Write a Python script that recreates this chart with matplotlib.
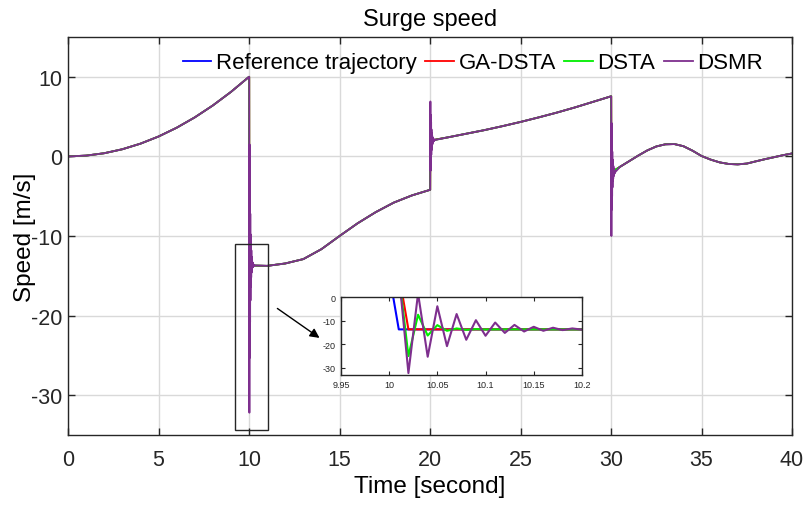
import numpy as np
import matplotlib.pyplot as plt
from matplotlib.patches import Rectangle

plt.rcParams['font.family'] = ['Liberation Sans', 'DejaVu Sans']
plt.rcParams['axes.unicode_minus'] = False

# reference trajectory, piece by piece (s, m/s)
seg1_time = [0, 1, 2, 3, 4, 5, 6, 7, 8, 9, 10]
seg1_speed = [0.0, 0.1, 0.4, 0.9, 1.6, 2.5, 3.6, 4.9, 6.4, 8.1, 10.0]

seg2_time = [10.01, 11, 12, 13, 14, 15, 16, 17, 18, 19, 20]
seg2_speed = [-13.7, -13.75, -13.45, -12.9, -11.65, -10.0, -8.4, -7.0, -5.8, -4.9, -4.2]

seg3_time = [20.01, 21, 22, 23, 24, 25, 26, 27, 28, 29, 30]
seg3_speed = [2.0, 2.4, 2.85, 3.3, 3.8, 4.33, 4.9, 5.5, 6.15, 6.85, 7.55]

seg4_time = [30.01, 30.5, 31, 31.5, 32, 32.5, 33, 33.5, 34, 34.5, 35,
             35.5, 36, 36.5, 37, 37.5, 38, 38.5, 39, 39.5, 40]
seg4_speed = [-2.0, -1.3, -0.6, 0.1, 0.75, 1.25, 1.52, 1.55, 1.28, 0.72, 0.05,
              -0.4, -0.75, -0.95, -1.0, -0.9, -0.62, -0.35, -0.1, 0.15, 0.37]

# controller samples after each step change (0.01 s sampling, first sample = lag)
ga_dsta_10 = [10.0, -13.7]
ga_dsta_20 = [-4.2, 2.0]
ga_dsta_30 = [7.55, -2.0]

dsta_10 = [10.0, -25.0, -7.5, -16.3, -11.9, -14.3, -13.3, -13.9, -13.6, -13.75, -13.7]
dsta_20 = [-4.2, 5.0, 0.4, 2.8, 1.6, 2.2, 1.9, 2.05, 2.0]
dsta_30 = [7.55, -6.6, 0.5, -3.1, -1.2, -2.3, -1.7, -2.0, -1.9]

dsmr_10 = [10.0, -32.2, 1.5, -25.3, -3.9, -20.8, -7.2, -18.1, -9.8, -16.4, -10.8,
           -15.2, -11.8, -14.6, -12.6, -14.3, -13.0, -14.0, -13.3, -13.8, -13.4,
           -13.9, -13.5, -13.8, -13.6, -13.75, -13.65, -13.7]
dsmr_20 = [-4.2, 6.9, -1.8, 5.2, -0.3, 4.3, 0.2, 3.4, 0.8, 2.9, 1.2, 2.6, 1.5,
           2.4, 1.7, 2.3, 1.8, 2.2, 1.9, 2.15, 1.95, 2.1, 2.0, 2.1, 2.05]
dsmr_30 = [7.55, -10.0, 4.2, -6.7, 2.0, -5.0, 0.6, -3.9, -0.4, -3.1, -0.8, -2.8,
           -1.2, -2.5, -1.5, -2.3, -1.7, -2.2, -1.8, -2.1, -1.9, -2.0]

ref_time = seg1_time + seg2_time + seg3_time + seg4_time
ref_speed = seg1_speed + seg2_speed + seg3_speed + seg4_speed


def controller(tr10, tr20, tr30):
    t, v = list(seg1_time), list(seg1_speed)
    pieces = [(10, tr10, seg2_time, seg2_speed),
              (20, tr20, seg3_time, seg3_speed),
              (30, tr30, seg4_time, seg4_speed)]
    for jump, tr, st, sv in pieces:
        tt = [jump + 0.01 * (i + 1) for i in range(len(tr))]
        t += tt
        v += tr
        for x, y in zip(st, sv):
            if x > tt[-1]:
                t.append(x)
                v.append(y)
    return t, v


series = [
    ('Reference trajectory', ref_time, ref_speed, '#0000ff'),
    ('GA-DSTA', *controller(ga_dsta_10, ga_dsta_20, ga_dsta_30), '#ff0000'),
    ('DSTA', *controller(dsta_10, dsta_20, dsta_30), '#00ee00'),
    ('DSMR', *controller(dsmr_10, dsmr_20, dsmr_30), '#7e2f8e'),
]

fig = plt.figure(figsize=(8.06, 5.06), dpi=100)
ax = fig.add_axes([0.0844, 0.1383, 0.8983, 0.7866])

for name, t, v, c in series:
    ax.plot(t, v, color=c, lw=1.3, label=name)

ax.set_xlim(0, 40)
ax.set_ylim(-35, 15)
ax.set_xticks(np.arange(0, 41, 5))
ax.set_yticks([-30, -20, -10, 0, 10])
ax.grid(True, color='#d9d9d9', lw=1)
ax.tick_params(direction='in', top=True, right=True, length=5, width=1,
               labelsize=15.5, colors='#262626')
ax.tick_params(axis='x', pad=10)
ax.tick_params(axis='y', pad=4)
for s in ax.spines.values():
    s.set_color('#262626')
    s.set_linewidth(1)

ax.set_title('Surge speed', fontsize=17, pad=9)
ax.set_xlabel('Time [second]', fontsize=17.5, labelpad=4)
ax.set_ylabel('Speed [m/s]', fontsize=17.5)
ax.yaxis.set_label_coords(-0.059, 0.5)
ax.yaxis.label.set_va('center')

ax.legend(loc='center', bbox_to_anchor=(0.559, 0.935), ncol=4, frameon=False,
          fontsize=16, handlelength=1.3, handletextpad=0.2, columnspacing=0.38)

# zoom box and arrow
box_t0, box_t1, box_v0, box_v1 = 9.23, 11.07, -34.4, -10.96
ax.add_patch(Rectangle((box_t0, box_v0), box_t1 - box_t0, box_v1 - box_v0,
                       fill=False, edgecolor='#262626', lw=1, zorder=5))
ax.annotate('', xy=(14.02, -23.0), xytext=(11.44, -18.9),
            arrowprops=dict(arrowstyle='-|>', color='k', lw=1, mutation_scale=14))

# inset
axi = fig.add_axes([0.423, 0.257, 0.299, 0.154])
for name, t, v, c in series:
    axi.plot(t, v, color=c, lw=1.5)
axi.set_xlim(9.95, 10.2)
axi.set_ylim(-33, 0)
axi.set_xticks([9.95, 10, 10.05, 10.1, 10.15, 10.2])
axi.set_xticklabels(['9.95', '10', '10.05', '10.1', '10.15', '10.2'])
axi.set_yticks([-30, -20, -10, 0])
axi.tick_params(direction='in', top=True, right=True, length=3, width=0.8,
                labelsize=6.5, colors='#262626')
for s in axi.spines.values():
    s.set_color('#262626')
    s.set_linewidth(1)

fig.savefig('out.png', dpi=100)
